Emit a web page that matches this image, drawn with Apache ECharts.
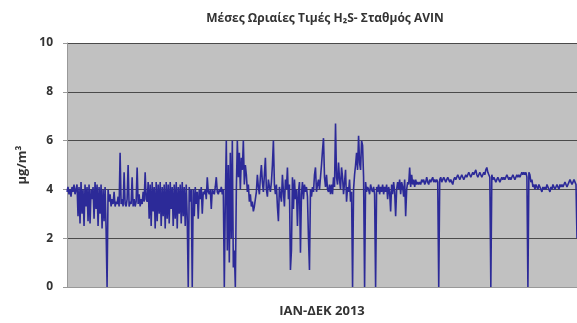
<!DOCTYPE html>
<html>
<head>
<meta charset="utf-8">
<script src="https://cdn.jsdelivr.net/npm/echarts@6/dist/echarts.min.js"></script>
<style>
  html, body { margin: 0; padding: 0; background: #fff; }
  #chart { width: 577px; height: 323px; }
</style>
</head>
<body>
<div id="chart"></div>
<script>
// hourly means, Jan -> Dec 2013
const janFeb = [
  3.9, 4.1, 3.8, 4.0, 3.7, 4.1, 3.9, 4.2, 3.8, 4.0,
  4.2, 2.9, 4.1, 2.6, 4.3, 3.0, 4.0, 2.5, 4.2, 3.3, 4.1, 2.7, 4.2, 2.6, 4.0,
  3.6, 4.1, 2.8, 4.3, 3.2, 4.2, 2.5, 4.1, 3.0, 4.2, 2.4, 4.0, 2.7, 4.1, 2.4,
  0,
  4.0, 3.5, 3.8, 3.3, 3.6, 3.4, 3.9, 3.3, 3.5, 3.4, 3.7, 3.3, 5.5, 3.4, 3.6, 3.3, 4.7, 3.4, 3.3, 3.6,
  5.0, 3.3, 3.5, 3.4, 4.5, 3.3, 3.6, 3.3, 3.5, 4.9, 3.4, 3.8, 3.3, 3.6, 3.4, 3.9, 3.5, 4.7, 3.6, 3.5
];
const marApr = [
  4.3, 2.8, 4.2, 2.5, 4.3, 3.1, 4.1, 2.4, 4.3, 2.7, 4.2, 3.0, 4.3, 2.5, 4.1, 2.9, 4.2, 2.4, 4.3, 2.8,
  4.2, 2.6, 4.3, 3.2, 4.1, 2.5, 4.2, 2.8, 4.3, 2.4, 4.1, 3.0, 4.2, 2.6, 4.3, 2.9, 4.1, 2.5, 4.2, 2.8,
  0, 4.1, 3.5, 4.0, 0,
  4.0, 2.9, 4.1, 3.4, 3.9, 2.8, 4.0, 3.6, 4.1, 3.0, 3.9, 3.8, 4.0, 3.6, 4.5, 3.9, 3.8, 4.0, 3.2, 4.0,
  3.9, 3.8, 4.1, 4.5, 3.9, 3.8, 4.0, 3.9, 4.1, 3.8, 4.0
];
const mayJul = [
  0, 3.5, 6.0, 1.5, 5.0, 1.0, 5.5, 2.0, 6.0, 0.8, 1.5, 0, 4.0, 6.0, 4.5, 5.5, 4.0, 5.3, 4.8, 6.0,
  4.2, 5.0, 4.6, 3.9, 4.2, 3.5, 3.8, 3.3, 3.5, 3.1,
  3.3, 3.6, 3.9, 4.6, 4.1, 3.8, 4.5, 5.0, 4.3, 3.9, 4.6, 5.3, 4.0, 3.7, 4.4, 4.1, 3.9, 4.3, 5.0, 6.0,
  4.2, 3.8, 4.2, 3.3, 2.7, 4.1, 3.8, 3.5, 4.6, 3.9, 3.3, 4.4, 4.0, 4.9, 3.6, 4.2,
  0.7, 1.5, 4.5, 3.2, 4.4, 3.6, 4.0, 2.5, 3.9, 4.3, 1.4, 3.8, 4.3, 3.6, 4.2, 3.9, 4.1, 3.7, 2.0, 0.7,
  4.0, 3.7, 4.1, 3.9, 4.6, 4.9, 3.9, 4.2, 4.4, 4.0, 4.5, 5.0, 5.6,
  6.1, 4.5, 4.1, 4.6, 4.0, 3.9, 4.2, 3.8, 4.2, 3.8, 4.5, 4.1, 6.7, 4.5, 4.2, 5.1, 4.4, 4.0, 4.9, 4.5,
  3.8, 4.3, 4.8, 3.5, 4.1, 3.9, 4.4, 3.5, 3.9, 0,
  4.0, 4.6, 5.0, 5.5, 4.8, 6.2, 5.1, 4.8, 6.0, 5.8, 4.5, 0, 4.3, 3.9, 4.1, 4.0, 3.8, 4.2, 4.0, 3.9,
  4.1, 3.8, 0, 4.1, 3.9, 4.2
];
const augSep = [
  3.8, 4.1, 3.9, 4.2, 3.8, 4.1, 3.9, 4.2, 3.6, 4.1, 3.9, 3.1, 4.2, 3.8, 4.3, 3.9, 2.9, 4.0, 4.3, 4.0,
  4.4, 3.8, 4.3, 4.1, 3.7, 4.4, 2.9, 4.0, 4.3, 4.2, 4.9, 4.1, 4.6, 4.2, 4.4, 4.1, 4.4, 4.2, 4.3, 4.2,
  4.3, 4.2, 4.4, 4.3, 4.4, 4.2, 4.3, 4.5, 4.3, 4.2, 4.4, 4.3, 4.4, 4.5, 4.3, 4.4, 4.3, 4.4, 4.3,
  0
];
const octDec = [
  4.4, 4.5, 4.3, 4.4, 4.5, 4.4, 4.3, 4.4, 4.5, 4.4, 4.3, 4.4, 4.3, 4.2, 4.4, 4.5, 4.4, 4.5, 4.6, 4.5,
  4.4, 4.5, 4.6, 4.5, 4.4, 4.5, 4.6, 4.5, 4.6, 4.7, 4.6, 4.5, 4.6, 4.7, 4.6, 4.7, 4.8, 4.6, 4.5, 4.6,
  4.7, 4.6, 4.5, 4.6, 4.7, 4.6, 4.8, 4.9, 4.7, 4.6, 4.5,
  0,
  4.6, 4.4, 4.5, 4.4, 4.3, 4.4, 4.5, 4.4, 4.3, 4.4, 4.5, 4.4, 4.5, 4.4, 4.5, 4.6, 4.5, 4.4, 4.5, 4.4,
  4.5, 4.6, 4.5, 4.4, 4.5, 4.6, 4.5, 4.6, 4.5, 4.6, 4.7, 4.6, 4.7, 4.6, 4.7, 4.5,
  0,
  4.7, 4.6, 4.3, 4.4, 4.1, 4.2, 4.0, 4.2, 4.1, 4.0, 4.2, 4.1, 4.0, 3.9, 4.1, 4.0, 4.1, 4.0, 4.2, 4.1,
  4.0, 3.9, 4.1, 4.0, 4.2, 4.1, 4.0, 4.1, 4.2, 4.1, 4.0, 4.2, 4.1, 4.2, 4.1, 4.2, 4.3, 4.2, 4.1, 4.2,
  4.3, 4.4, 4.3, 4.2, 4.3, 4.4, 4.3, 4.2,
  2.0
];
const h2s = [].concat(janFeb, marApr, mayJul, augSep, octDec);
const hours = h2s.map((v, i) => i);
const yTicks = [0, 2, 4, 6, 8, 10];

const chart = echarts.init(document.getElementById('chart'));
chart.setOption({
  animation: false,
  title: {
    text: 'Μέσες Ωριαίες Τιμές H₂S- Σταθμός AVIN',
    left: 320,
    textAlign: 'center',
    top: 8,
    textStyle: { fontFamily: 'Open Sans', fontWeight: 'bold', fontSize: 12, color: '#333' }
  },
  grid: {
    left: 67,
    right: 0,
    top: 43,
    bottom: 34,
    show: true,
    backgroundColor: '#c1c1c1',
    borderWidth: 0
  },
  xAxis: {
    type: 'category',
    data: hours,
    boundaryGap: false,
    name: 'IAN-ΔΕΚ 2013',
    nameLocation: 'middle',
    nameGap: 18,
    nameTextStyle: { fontFamily: 'Open Sans', fontWeight: 'bold', fontSize: 13, color: '#333' },
    axisLine: { lineStyle: { color: '#999' } },
    axisTick: { show: false },
    axisLabel: { show: false },
    splitLine: { show: false }
  },
  yAxis: {
    type: 'value',
    min: yTicks[0],
    max: yTicks[yTicks.length - 1],
    interval: 2,
    name: 'μg/m³',
    nameLocation: 'middle',
    nameGap: 28,
    nameTextStyle: { fontFamily: 'Open Sans', fontWeight: 'bold', fontSize: 13, color: '#333' },
    axisLine: { show: true, lineStyle: { color: '#999' } },
    axisTick: { show: true, length: 4, lineStyle: { color: '#999' } },
    axisLabel: { fontFamily: 'Open Sans', fontWeight: 'bold', fontSize: 12, color: '#333', margin: 14 },
    splitLine: { lineStyle: { color: '#4a4a4a', width: 1 } }
  },
  series: [
    {
      type: 'line',
      data: h2s,
      showSymbol: false,
      lineStyle: { color: '#2c2a98', width: 1.6 },
      itemStyle: { color: '#2c2a98' }
    }
  ]
});
</script>
</body>
</html>
